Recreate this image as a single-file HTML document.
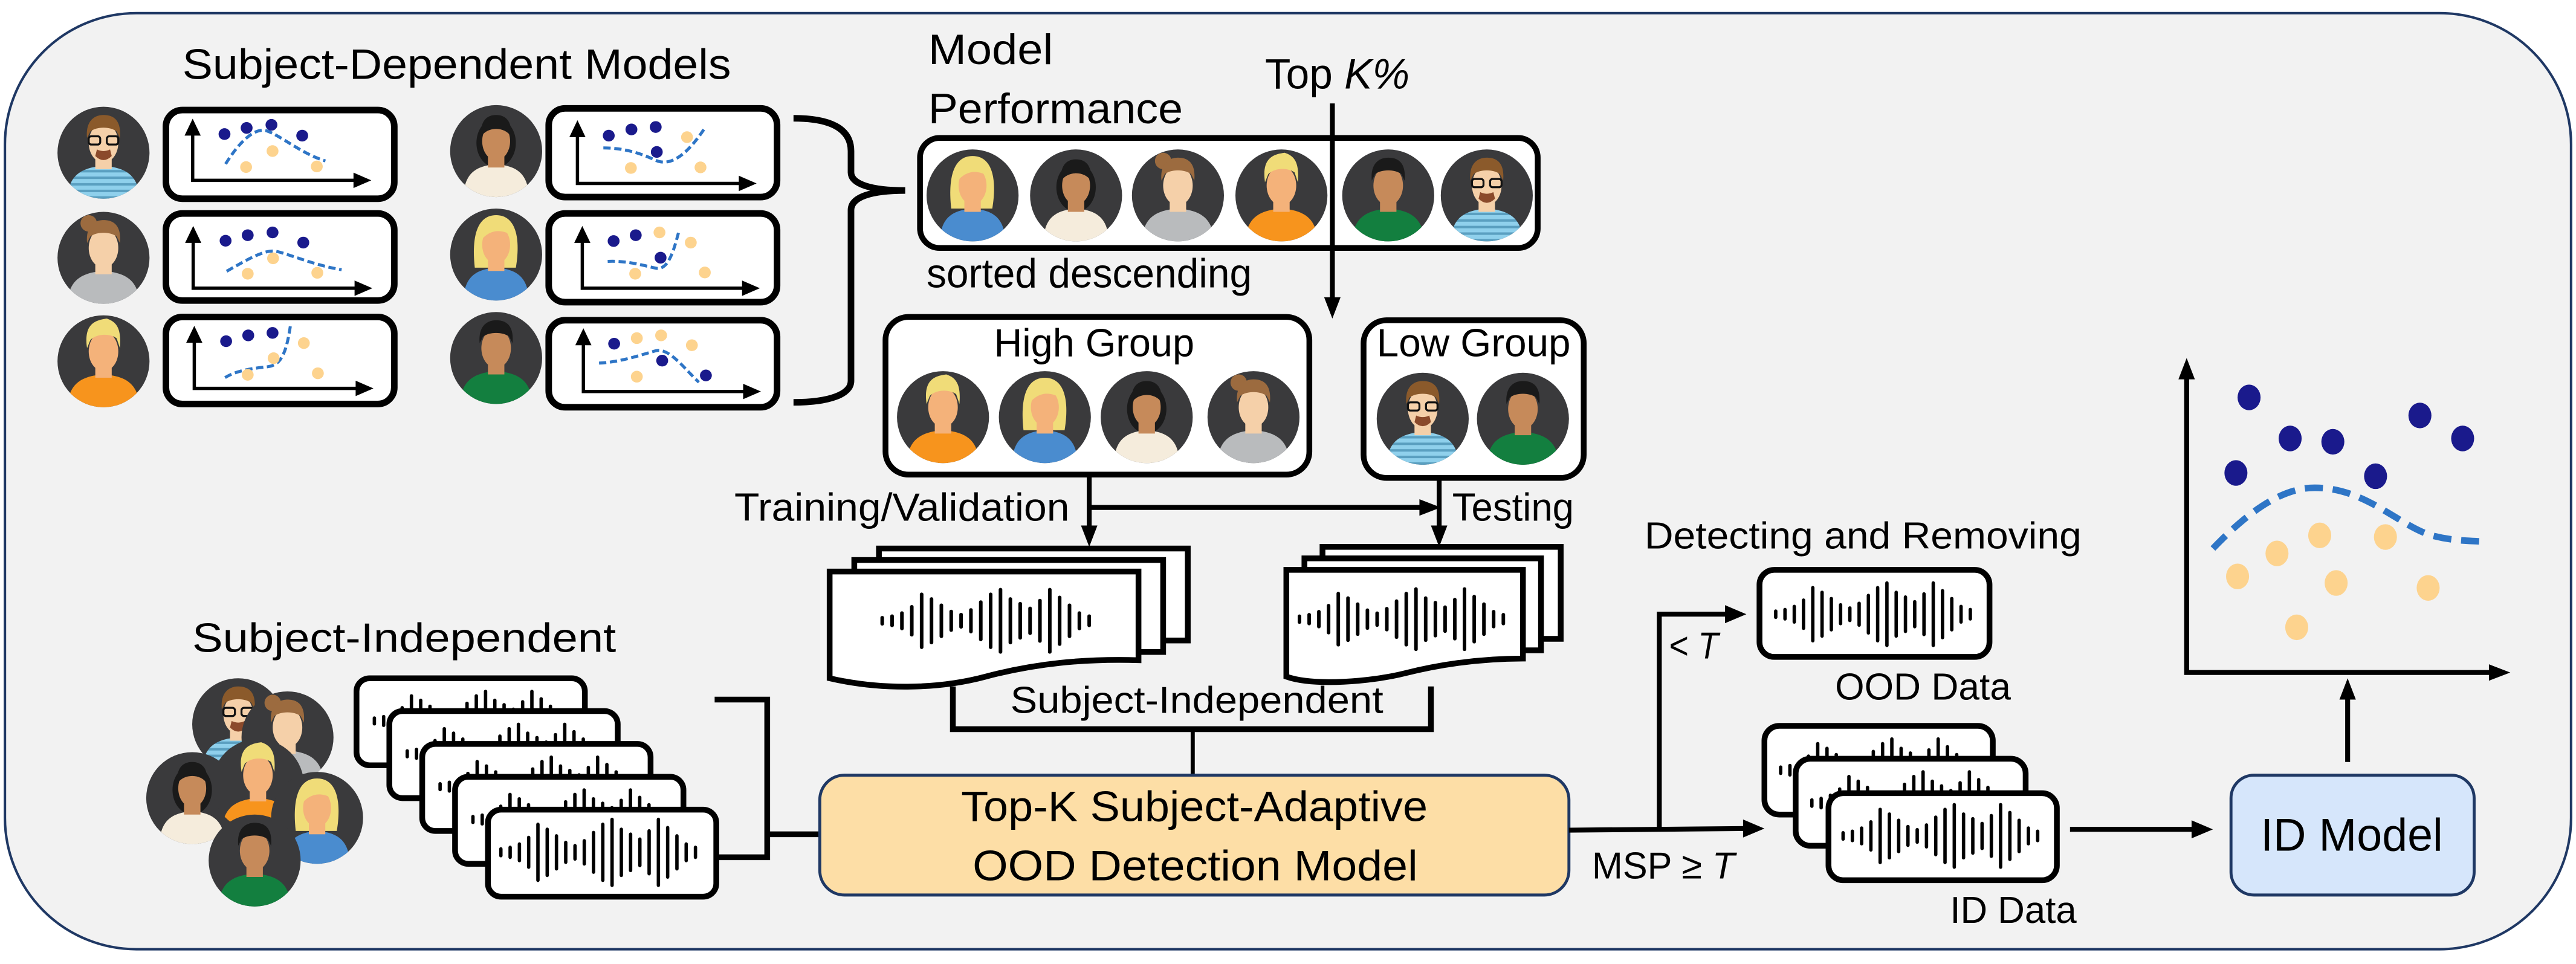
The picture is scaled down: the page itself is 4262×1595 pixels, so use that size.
<!DOCTYPE html>
<html><head><meta charset="utf-8"><style>
html,body{margin:0;padding:0;background:#fff;}
svg{display:block;}
text{font-family:"Liberation Sans",sans-serif;fill:#000;}
</style></head><body>
<svg width="4262" height="1595" viewBox="0 0 1568 587" preserveAspectRatio="none" xmlns="http://www.w3.org/2000/svg">
<defs>
<clipPath id="cc"><circle cx="0" cy="0" r="28"/></clipPath>
<pattern id="stripe" width="4" height="4" patternUnits="userSpaceOnUse"><rect width="4" height="4" fill="#8fd0ec"/><rect y="2.5" width="4" height="1.5" fill="#5a9fc0"/></pattern>
<symbol id="aA" viewBox="-30 -30 60 60"><circle r="28" fill="#3a3a3c"/><g clip-path="url(#cc)"><path d="M-22,30 C-22,14 -14,9 0,8 C14,9 22,14 22,30Z" fill="url(#stripe)"/><rect x="-5" y="0" width="10" height="10" fill="#f5d0a9"/><ellipse cy="-6" rx="9" ry="12" fill="#f5d0a9"/><path d="M-10,-9 C-11,-20 -5,-23 0,-23 C6,-23 11,-20 10,-9 L8,-13 C4,-16 -4,-16 -8,-13Z" fill="#8b5a2b"/><path d="M-5,2 Q0,7 5,2 L4,-2 Q0,0 -4,-2Z" fill="#8b4a2b"/><rect x="-9" y="-10" width="7" height="5" rx="1.5" fill="none" stroke="#111" stroke-width="1.2"/><rect x="2" y="-10" width="7" height="5" rx="1.5" fill="none" stroke="#111" stroke-width="1.2"/></g></symbol>
<symbol id="aB" viewBox="-30 -30 60 60"><circle r="28" fill="#3a3a3c"/><g clip-path="url(#cc)"><path d="M-22,30 C-22,14 -14,9 0,8 C14,9 22,14 22,30Z" fill="#b9bbbd"/><rect x="-5" y="0" width="10" height="10" fill="#f5d0a9"/><ellipse cy="-6" rx="9" ry="12" fill="#f5d0a9"/><circle cx="-9" cy="-21" r="5" fill="#9c6b3f"/><path d="M-10,-9 C-11,-20 -5,-23 0,-23 C6,-23 11,-20 10,-9 L8,-13 C4,-16 -4,-16 -8,-13Z" fill="#9c6b3f"/></g></symbol>
<symbol id="aC" viewBox="-30 -30 60 60"><circle r="28" fill="#3a3a3c"/><g clip-path="url(#cc)"><path d="M-22,30 C-22,14 -14,9 0,8 C14,9 22,14 22,30Z" fill="#f7941d"/><rect x="-5" y="0" width="10" height="10" fill="#f4b27a"/><ellipse cy="-6" rx="9" ry="12" fill="#f4b27a"/><path d="M-10,-8 C-12,-22 -6,-25 2,-26 C8,-24 11,-20 10,-8 L8,-14 C4,-17 -4,-17 -8,-13Z" fill="#f0dc78"/></g></symbol>
<symbol id="aD" viewBox="-30 -30 60 60"><circle r="28" fill="#3a3a3c"/><g clip-path="url(#cc)"><ellipse cy="-5" rx="12" ry="15" fill="#1a1a1a"/><path d="M-20,30 C-20,14 -13,9 0,8 C13,9 20,14 20,30Z" fill="#f5ecdc"/><rect x="-5" y="0" width="10" height="10" fill="#c68a5a"/><ellipse cy="-6" rx="8.5" ry="11.5" fill="#c68a5a"/><path d="M-9,-9 C-10,-19 -5,-22 0,-22 C5,-22 10,-19 9,-9 C5,-15 -5,-15 -9,-9Z" fill="#1a1a1a"/></g></symbol>
<symbol id="aE" viewBox="-30 -30 60 60"><circle r="28" fill="#3a3a3c"/><g clip-path="url(#cc)"><path d="M-13,8 C-15,-10 -12,-24 0,-24 C12,-24 15,-10 12,8Z" fill="#f0dc78"/><path d="M-20,30 C-20,14 -13,9 0,8 C13,9 20,14 20,30Z" fill="#4a8ccf"/><rect x="-5" y="0" width="10" height="10" fill="#f4b27a"/><ellipse cy="-6" rx="8.5" ry="11.5" fill="#f4b27a"/><path d="M-9,-9 C-9,-19 -5,-22 0,-22 C6,-22 9,-18 9,-12 C4,-15 -3,-16 -9,-9Z" fill="#f0dc78"/></g></symbol>
<symbol id="aF" viewBox="-30 -30 60 60"><circle r="28" fill="#3a3a3c"/><g clip-path="url(#cc)"><path d="M-22,30 C-22,14 -14,9 0,8 C14,9 22,14 22,30Z" fill="#137f3f"/><rect x="-5" y="0" width="10" height="10" fill="#c68a5a"/><ellipse cy="-6" rx="9" ry="12" fill="#c68a5a"/><path d="M-10,-9 C-11,-20 -5,-23 0,-23 C6,-23 11,-20 10,-9 L8,-13 C4,-16 -4,-16 -8,-13Z" fill="#1a1a1a"/></g></symbol>
<g id="wf" stroke="#000" stroke-width="2.2" stroke-linecap="round">
<line x1="2" y1="-2" x2="2" y2="2"/><line x1="8" y1="-3" x2="8" y2="3"/><line x1="14" y1="-5" x2="14" y2="5"/><line x1="20" y1="-9" x2="20" y2="9"/><line x1="26" y1="-17" x2="26" y2="17"/><line x1="32" y1="-14" x2="32" y2="14"/><line x1="38" y1="-10" x2="38" y2="10"/><line x1="44" y1="-6" x2="44" y2="6"/><line x1="50" y1="-4" x2="50" y2="4"/><line x1="56" y1="-7" x2="56" y2="7"/><line x1="62" y1="-12" x2="62" y2="12"/><line x1="68" y1="-17" x2="68" y2="17"/><line x1="74" y1="-20" x2="74" y2="20"/><line x1="80" y1="-14" x2="80" y2="14"/><line x1="86" y1="-11" x2="86" y2="11"/><line x1="92" y1="-8" x2="92" y2="8"/><line x1="98" y1="-13" x2="98" y2="13"/><line x1="104" y1="-20" x2="104" y2="20"/><line x1="110" y1="-15" x2="110" y2="15"/><line x1="116" y1="-10" x2="116" y2="10"/><line x1="122" y1="-5" x2="122" y2="5"/><line x1="128" y1="-3" x2="128" y2="3"/>
</g>
</defs>

<rect x="3" y="8" width="1562" height="570" rx="80" ry="80" fill="#f2f2f2" stroke="#1f3864" stroke-width="1.5"/>

<text x="111" y="48" font-size="26" textLength="334" lengthAdjust="spacingAndGlyphs">Subject-Dependent Models</text>
<text x="565" y="39" font-size="26" textLength="76" lengthAdjust="spacingAndGlyphs">Model</text>
<text x="565" y="75" font-size="26" textLength="155" lengthAdjust="spacingAndGlyphs">Performance</text>
<text x="770" y="54" font-size="26" textLength="88" lengthAdjust="spacingAndGlyphs">Top <tspan font-style="italic">K%</tspan></text>

<use href="#aA" x="33" y="63" width="60" height="60"/>
<use href="#aB" x="33" y="127" width="60" height="60"/>
<use href="#aC" x="33" y="190" width="60" height="60"/>
<use href="#aD" x="272" y="62" width="60" height="60"/>
<use href="#aE" x="272" y="125" width="60" height="60"/>
<use href="#aF" x="272" y="188" width="60" height="60"/>

<g fill="#fff" stroke="#000" stroke-width="4">
<rect x="101" y="67" width="139" height="54" rx="10"/>
<rect x="101" y="130" width="139" height="53" rx="10"/>
<rect x="101" y="193" width="139" height="53" rx="10"/>
<rect x="334" y="66" width="139" height="54" rx="10"/>
<rect x="334" y="130" width="139" height="54" rx="10"/>
<rect x="334" y="195" width="139" height="53" rx="10"/>
</g>
<g transform="scale(0.3285,0.1877)">
<g stroke="#000" stroke-width="5.5" fill="none">
<path d="M357,400 V585 H665" vector-effect="non-scaling-stroke"/>
<path d="M358,748 V935 H667" vector-effect="non-scaling-stroke"/>
<path d="M360,1072 V1260 H669" vector-effect="non-scaling-stroke"/>
<path d="M1070,405 V595 H1379" vector-effect="non-scaling-stroke"/>
<path d="M1079,748 V935 H1385" vector-effect="non-scaling-stroke"/>
<path d="M1081,1080 V1270 H1387" vector-effect="non-scaling-stroke"/>
</g>
<g fill="#000">
<polygon points="342,440 372,440 357,385"/><polygon points="655,560 655,610 688,585"/>
<polygon points="343,788 373,788 358,733"/><polygon points="657,910 657,960 690,935"/>
<polygon points="345,1112 375,1112 360,1057"/><polygon points="659,1235 659,1285 692,1260"/>
<polygon points="1055,445 1085,445 1070,390"/><polygon points="1369,570 1369,620 1402,595"/>
<polygon points="1064,788 1094,788 1079,733"/><polygon points="1375,910 1375,960 1408,935"/>
<polygon points="1066,1120 1096,1120 1081,1065"/><polygon points="1377,1245 1377,1295 1410,1270"/>
</g>
<g fill="none" stroke="#2e75c6" stroke-width="5" stroke-dasharray="12 6">
<path vector-effect="non-scaling-stroke" d="M418,532 C440,470 470,410 495,425 S560,500 603,522"/>
<path vector-effect="non-scaling-stroke" d="M420,880 C460,840 490,810 510,815 S580,860 633,875"/>
<path vector-effect="non-scaling-stroke" d="M417,1225 C440,1200 470,1195 495,1190 S530,1150 538,1058"/>
<path vector-effect="non-scaling-stroke" d="M1118,480 C1160,480 1190,500 1215,520 S1270,510 1305,418"/>
<path vector-effect="non-scaling-stroke" d="M1126,848 C1160,845 1190,860 1215,870 S1250,800 1258,750"/>
<path vector-effect="non-scaling-stroke" d="M1110,1178 C1150,1175 1190,1150 1215,1138 S1270,1200 1295,1240"/>
</g>
<g fill="#1a1a8c">
<ellipse cx="416" cy="435" rx="11" ry="19"/><ellipse cx="457" cy="415" rx="11" ry="19"/><ellipse cx="503" cy="405" rx="11" ry="19"/><ellipse cx="560" cy="440" rx="11" ry="19"/>
<ellipse cx="418" cy="781" rx="11" ry="19"/><ellipse cx="459" cy="763" rx="11" ry="19"/><ellipse cx="505" cy="754" rx="11" ry="19"/><ellipse cx="562" cy="787" rx="11" ry="19"/>
<ellipse cx="419" cy="1107" rx="11" ry="19"/><ellipse cx="460" cy="1088" rx="11" ry="19"/><ellipse cx="505" cy="1080" rx="11" ry="19"/>
<ellipse cx="1128" cy="440" rx="11" ry="19"/><ellipse cx="1170" cy="420" rx="11" ry="19"/><ellipse cx="1215" cy="412" rx="11" ry="19"/><ellipse cx="1217" cy="493" rx="11" ry="19"/>
<ellipse cx="1137" cy="782" rx="11" ry="19"/><ellipse cx="1178" cy="763" rx="11" ry="19"/><ellipse cx="1224" cy="836" rx="11" ry="19"/>
<ellipse cx="1138" cy="1115" rx="11" ry="19"/><ellipse cx="1227" cy="1170" rx="11" ry="19"/><ellipse cx="1308" cy="1218" rx="11" ry="19"/>
</g>
<g fill="#fdd38e">
<ellipse cx="505" cy="490" rx="11" ry="19"/><ellipse cx="456" cy="542" rx="11" ry="19"/><ellipse cx="587" cy="540" rx="11" ry="19"/>
<ellipse cx="506" cy="838" rx="11" ry="19"/><ellipse cx="459" cy="888" rx="11" ry="19"/><ellipse cx="588" cy="885" rx="11" ry="19"/>
<ellipse cx="563" cy="1113" rx="11" ry="19"/><ellipse cx="507" cy="1162" rx="11" ry="19"/><ellipse cx="459" cy="1216" rx="11" ry="19"/><ellipse cx="589" cy="1211" rx="11" ry="19"/>
<ellipse cx="1273" cy="445" rx="11" ry="19"/><ellipse cx="1169" cy="545" rx="11" ry="19"/><ellipse cx="1298" cy="543" rx="11" ry="19"/>
<ellipse cx="1222" cy="754" rx="11" ry="19"/><ellipse cx="1280" cy="787" rx="11" ry="19"/><ellipse cx="1177" cy="888" rx="11" ry="19"/><ellipse cx="1306" cy="884" rx="11" ry="19"/>
<ellipse cx="1180" cy="1097" rx="11" ry="19"/><ellipse cx="1225" cy="1088" rx="11" ry="19"/><ellipse cx="1282" cy="1120" rx="11" ry="19"/><ellipse cx="1180" cy="1222" rx="11" ry="19"/>
</g>
</g>

<path d="M483,72 C505,72 518,78 518,92 V105 C518,112 530,116 551,116 C530,116 518,120 518,128 V232 C518,240 505,245 483,245" fill="none" stroke="#000" stroke-width="4"/>

<rect x="560" y="84" width="376" height="67" rx="12" fill="#fff" stroke="#000" stroke-width="3.5"/>
<use href="#aE" x="562" y="89" width="60" height="60"/>
<use href="#aD" x="625" y="89" width="60" height="60"/>
<use href="#aB" x="687" y="89" width="60" height="60"/>
<use href="#aC" x="750" y="89" width="60" height="60"/>
<use href="#aF" x="815" y="89" width="60" height="60"/>
<use href="#aA" x="875" y="89" width="60" height="60"/>
<line x1="811" y1="63" x2="811" y2="182" stroke="#000" stroke-width="3"/>
<polygon points="806,181 816,181 811,194" fill="#000"/>
<text x="564" y="175" font-size="25" textLength="198" lengthAdjust="spacingAndGlyphs">sorted descending</text>

<rect x="539" y="193" width="258" height="96" rx="14" fill="#fff" stroke="#000" stroke-width="3.5"/>
<text x="605" y="217" font-size="24" textLength="122" lengthAdjust="spacingAndGlyphs">High Group</text>
<use href="#aC" x="544" y="224" width="60" height="60"/>
<use href="#aE" x="606" y="224" width="60" height="60"/>
<use href="#aD" x="668" y="224" width="60" height="60"/>
<use href="#aB" x="733" y="224" width="60" height="60"/>
<rect x="830" y="195" width="134" height="96" rx="14" fill="#fff" stroke="#000" stroke-width="3.5"/>
<text x="838" y="217" font-size="24" textLength="118" lengthAdjust="spacingAndGlyphs">Low Group</text>
<use href="#aA" x="836" y="225" width="60" height="60"/>
<use href="#aF" x="897" y="225" width="60" height="60"/>

<g stroke="#000" stroke-width="3" fill="none">
<line x1="663" y1="289" x2="663" y2="322"/>
<line x1="663" y1="309" x2="866" y2="309"/>
<line x1="876" y1="291" x2="876" y2="322"/>
</g>
<polygon points="658,320 668,320 663,333" fill="#000"/>
<polygon points="871,320 881,320 876,333" fill="#000"/>
<polygon points="864,304 864,314 877,309" fill="#000"/>
<text x="447" y="317" font-size="24" textLength="204" lengthAdjust="spacingAndGlyphs">Training/Validation</text>
<text x="884" y="317" font-size="24" textLength="74" lengthAdjust="spacingAndGlyphs">Testing</text>

<g fill="#fff" stroke="#000" stroke-width="3.5">
<rect x="535" y="334" width="188" height="56"/>
<rect x="520" y="341" width="188" height="56"/>
<path d="M505,348 H693 V402 C660,401 630,404 600,412 S535,420 505,413 Z"/>
<rect x="805" y="333" width="145" height="56"/>
<rect x="794" y="340" width="144" height="56"/>
<path d="M783,347 H927 V401 C900,401 875,405 855,410 S800,418 783,412 Z"/>
</g>
<use href="#wf" transform="translate(535,378) scale(1,0.95)"/>
<use href="#wf" transform="translate(789,377) scale(0.985,0.92)"/>

<path d="M580,418 V444 H871 V418" fill="none" stroke="#000" stroke-width="3.5"/>
<line x1="726" y1="444" x2="726" y2="472" stroke="#000" stroke-width="2.5"/>
<text x="615" y="434" font-size="23" textLength="227" lengthAdjust="spacingAndGlyphs">Subject-Independent</text>

<text x="117" y="397" font-size="25" textLength="258" lengthAdjust="spacingAndGlyphs">Subject-Independent</text>
<use href="#aA" x="115" y="411" width="60" height="60"/>
<use href="#aB" x="145" y="419" width="60" height="60"/>
<use href="#aD" x="87" y="456" width="60" height="60"/>
<use href="#aC" x="127" y="448" width="60" height="60"/>
<use href="#aE" x="163" y="468" width="60" height="60"/>
<use href="#aF" x="125" y="494" width="60" height="60"/>
<g fill="#fff" stroke="#000" stroke-width="3.5">
<rect x="217" y="413" width="139" height="53" rx="8"/>
<use href="#wf" transform="translate(226,439) scale(0.94,0.9)"/>
<rect x="237" y="433" width="139" height="53" rx="8"/>
<use href="#wf" transform="translate(246,459) scale(0.94,0.9)"/>
<rect x="257" y="453" width="139" height="53" rx="8"/>
<use href="#wf" transform="translate(266,479) scale(0.94,0.9)"/>
<rect x="277" y="473" width="139" height="53" rx="8"/>
<use href="#wf" transform="translate(286,499) scale(0.94,0.9)"/>
<rect x="297" y="493" width="139" height="53" rx="8"/>
<use href="#wf" transform="translate(303,519) scale(0.94,1)"/>
</g>
<path d="M435,426 H467 V522 H435 M467,508 H500" fill="none" stroke="#000" stroke-width="3.5"/>

<rect x="499" y="472" width="456" height="73" rx="15" fill="#fddea6" stroke="#1f3864" stroke-width="1.8"/>
<text x="585" y="500" font-size="26" textLength="284" lengthAdjust="spacingAndGlyphs">Top-K Subject-Adaptive</text>
<text x="592" y="536" font-size="26" textLength="271" lengthAdjust="spacingAndGlyphs">OOD Detection Model</text>

<g stroke="#000" stroke-width="3" fill="none">
<line x1="955" y1="505.5" x2="1064" y2="504.5"/>
<polyline points="1010,505 1010,374 1053,374"/>
<line x1="1260" y1="505" x2="1336" y2="505"/>
<line x1="1429" y1="464" x2="1429" y2="425"/>
</g>
<polygon points="1061,499 1061,510 1074,504.5" fill="#000"/>
<polygon points="1050,368.5 1050,379.5 1063,374" fill="#000"/>
<polygon points="1334,499.5 1334,510.5 1347,505" fill="#000"/>
<polygon points="1424,426 1434,426 1429,413" fill="#000"/>
<text x="1016" y="401" font-size="23" textLength="30" lengthAdjust="spacingAndGlyphs">&lt; <tspan font-style="italic">T</tspan></text>
<text x="969" y="535" font-size="23" textLength="87" lengthAdjust="spacingAndGlyphs">MSP ≥ <tspan font-style="italic">T</tspan></text>
<text x="1001" y="334" font-size="23" textLength="266" lengthAdjust="spacingAndGlyphs">Detecting and Removing</text>

<g fill="#fff" stroke="#000" stroke-width="3.5">
<rect x="1071" y="347" width="140" height="53" rx="9"/>
<rect x="1074" y="442" width="139" height="54" rx="9"/>
<use href="#wf" transform="translate(1082,469) scale(0.94,0.95)"/>
<rect x="1093" y="462" width="140" height="53" rx="9"/>
<use href="#wf" transform="translate(1101,489) scale(0.94,0.95)"/>
<rect x="1113" y="483" width="139" height="53" rx="9"/>
</g>
<use href="#wf" transform="translate(1079,374) scale(0.94,0.95)"/>
<use href="#wf" transform="translate(1120,509) scale(0.94,0.95)"/>
<text x="1117" y="426" font-size="23" textLength="107" lengthAdjust="spacingAndGlyphs">OOD Data</text>
<text x="1187" y="562" font-size="23" textLength="77" lengthAdjust="spacingAndGlyphs">ID Data</text>

<rect x="1358" y="472" width="148" height="73" rx="14" fill="#d6e6fb" stroke="#1f3864" stroke-width="1.8"/>
<text x="1376" y="518" font-size="28" textLength="111" lengthAdjust="spacingAndGlyphs">ID Model</text>

<path d="M1331,228 V409.5 H1518" fill="none" stroke="#000" stroke-width="3"/>
<polygon points="1326,231 1336,231 1331,218" fill="#000"/>
<polygon points="1515,404.5 1515,414.5 1528,409.5" fill="#000"/>
<path d="M1347,334 C1370,310 1390,297 1409,297 C1440,297 1460,320 1480,326 C1495,330 1505,329 1513,330" fill="none" stroke="#2e75c6" stroke-width="4" stroke-dasharray="11 6"/>
<g fill="#1a1a8c">
<ellipse cx="1369" cy="242" rx="7" ry="7.8"/><ellipse cx="1394" cy="267" rx="7" ry="7.8"/><ellipse cx="1420" cy="269" rx="7" ry="7.8"/><ellipse cx="1361" cy="288" rx="7" ry="7.8"/><ellipse cx="1446" cy="290" rx="7" ry="7.8"/><ellipse cx="1473" cy="253" rx="7" ry="7.8"/><ellipse cx="1499" cy="267" rx="7" ry="7.8"/>
</g>
<g fill="#fdd38e">
<ellipse cx="1412" cy="326" rx="7" ry="7.8"/><ellipse cx="1452" cy="327" rx="7" ry="7.8"/><ellipse cx="1386" cy="337" rx="7" ry="7.8"/><ellipse cx="1362" cy="351" rx="7" ry="7.8"/><ellipse cx="1422" cy="355" rx="7" ry="7.8"/><ellipse cx="1478" cy="358" rx="7" ry="7.8"/><ellipse cx="1398" cy="382" rx="7" ry="7.8"/>
</g>
</svg>
</body></html>
